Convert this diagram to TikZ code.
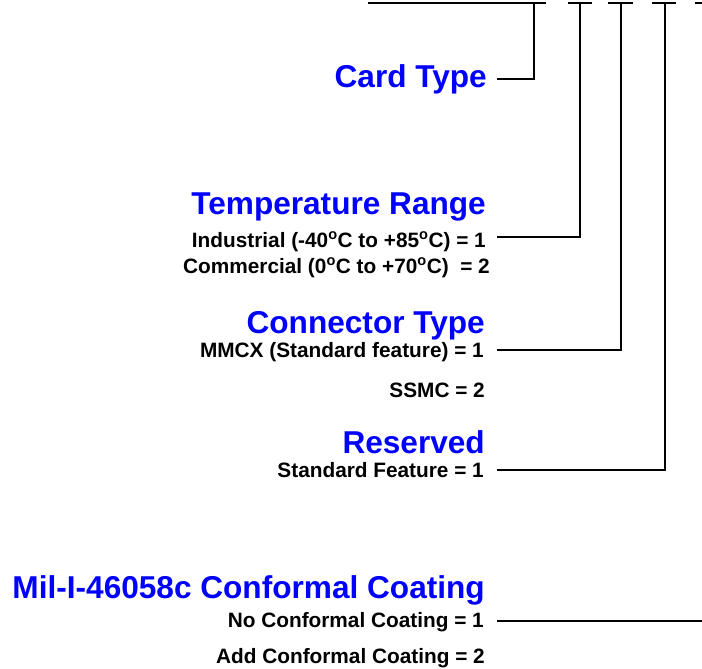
\documentclass[tikz,border=0pt]{standalone}
\usepackage{fontspec}
\setmainfont{Liberation Sans}
\begin{document}
\begin{tikzpicture}[x=1pt,y=-1pt,
  head/.style={anchor=base east,inner sep=0pt,text=blue,font=\bfseries\fontsize{31.6}{31.6}\selectfont},
  item/.style={anchor=base east,inner sep=0pt,text=black,font=\bfseries\fontsize{20.8}{20.8}\selectfont},
  wire/.style={line width=2.9pt,black,line join=miter}]
\useasboundingbox (0,0) rectangle (702,669);
\clip (0,0) rectangle (702,669);
% headings and items
\node[head] (card) at (487,88) {Card Type};
\node[head] (temp) at (486,214) {Temperature Range};
\node[item] (ind) at (486,247) {Industrial (-40\textsuperscript{o}C to +85\textsuperscript{o}C) = 1};
\node[item] (com) at (490,273) {Commercial (0\textsuperscript{o}C to +70\textsuperscript{o}C) \ = 2};
\node[head] (conn) at (485,333) {Connector Type};
\node[item] (mmcx) at (484,357) {MMCX (Standard feature) = 1};
\node[item] (ssmc) at (485,397) {SSMC = 2};
\node[head] (res) at (485,453) {Reserved};
\node[item] (std) at (484,477) {Standard Feature = 1};
\node[head] (mil) at (485,598) {Mil-I-46058c Conformal Coating};
\node[item] (noc) at (484,627) {No Conformal Coating = 1};
\node[item] (addc) at (485,663) {Add Conformal Coating = 2};
% coordinates
\coordinate (b0l) at (368,3); \coordinate (b0r) at (546,3); \coordinate (v0) at (534,3);
\coordinate (b1l) at (568,3); \coordinate (b1r) at (592,3); \coordinate (v1) at (580,3);
\coordinate (b2l) at (608,3); \coordinate (b2r) at (633,3); \coordinate (v2) at (621,3);
\coordinate (b3l) at (652,3); \coordinate (b3r) at (676,3); \coordinate (v3) at (665,3);
\coordinate (b4l) at (695,3); \coordinate (b4r) at (719,3); \coordinate (v4) at (708,3);
\coordinate (e0) at (497,79);
\coordinate (e1) at (497,237);
\coordinate (e2) at (497,350);
\coordinate (e3) at (497,470);
\coordinate (e4) at (497,621);
% wires
\draw[wire] (b0l) -- (b0r);
\draw[wire] (b1l) -- (b1r);
\draw[wire] (b2l) -- (b2r);
\draw[wire] (b3l) -- (b3r);
\draw[wire] (b4l) -- (b4r);
\draw[wire] (v0) |- (e0);
\draw[wire] (v1) |- (e1);
\draw[wire] (v2) |- (e2);
\draw[wire] (v3) |- (e3);
\draw[wire] (v4) |- (e4);
\end{tikzpicture}
\end{document}
